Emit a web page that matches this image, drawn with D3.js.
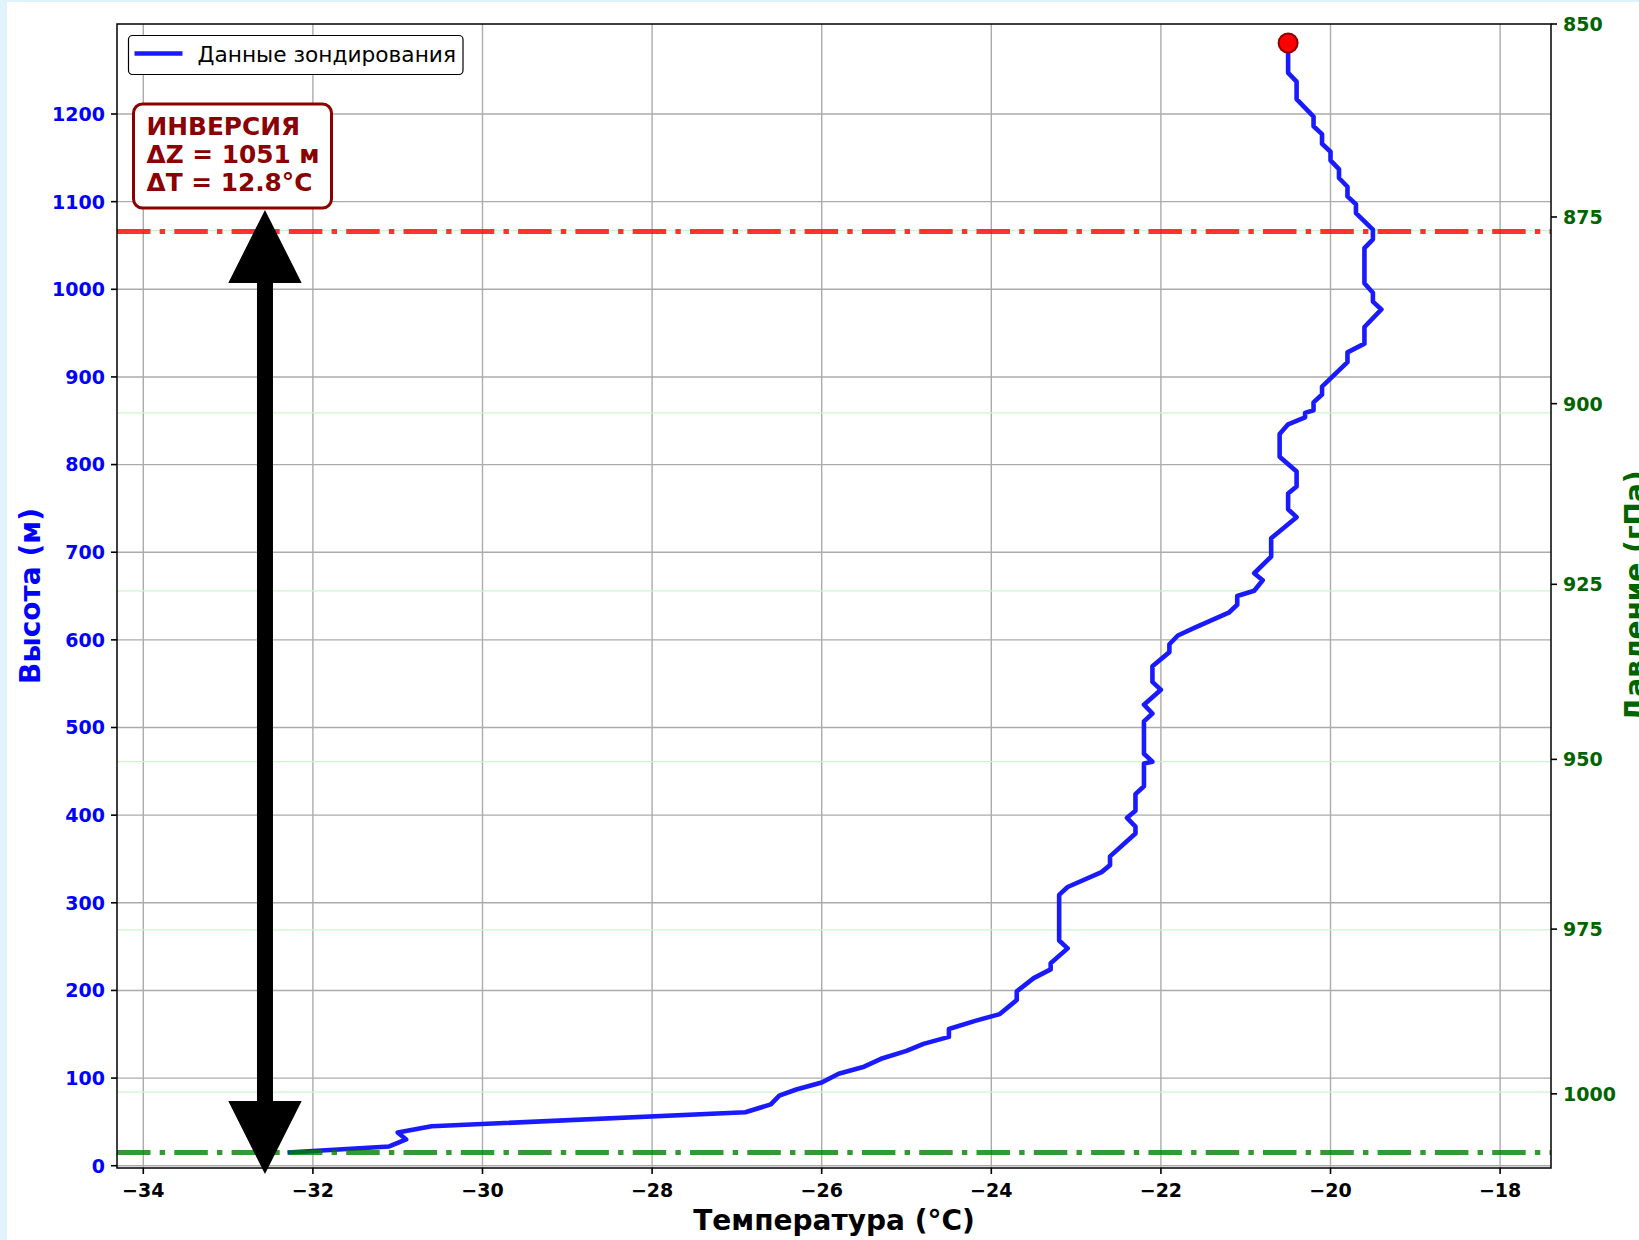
<!DOCTYPE html>
<html><head><meta charset="utf-8">
<script src="https://cdn.jsdelivr.net/npm/d3@7"></script>
<style>
html,body{margin:0;padding:0;background:#dff3fa;overflow:hidden;}
svg{position:absolute;left:0;top:0;}
</style></head><body>
<svg id="chart" width="1639" height="1240"></svg>
<script>
// ---------- data ----------
const temperature = [
  -32.3,-31.1,-30.9,-31.0,-30.6,-26.9,-26.6,-26.5,-26.3,-26.0,
  -25.8,-25.5,-25.3,-25.0,-24.8,-24.5,-24.5,-24.2,-23.9,-23.7,
  -23.7,-23.5,-23.3,-23.3,-23.1,-23.2,-23.2,-23.1,-22.7,-22.6,
  -22.6,-22.3,-22.3,-22.4,-22.3,-22.3,-22.2,-22.2,-22.1,-22.2,
  -22.2,-22.1,-22.2,-22.0,-22.1,-22.1,-21.9,-21.9,-21.8,-21.6,
  -21.2,-21.1,-21.1,-20.9,-20.8,-20.9,-20.7,-20.7,-20.4,-20.5,
  -20.5,-20.4,-20.4,-20.6,-20.6,-20.5,-20.3,-20.3,-20.2,-20.2,
  -20.1,-20.1,-19.8,-19.8,-19.6,-19.6,-19.4,-19.5,-19.5,-19.6,
  -19.6,-19.5,-19.5,-19.7,-19.7,-19.8,-19.8,-19.9,-19.9,-20.0,
  -20.0,-20.1,-20.1,-20.2,-20.2,-20.4,-20.4,-20.5,-20.5
];
const height = [
  15,22,30,38,45,61,70,80,87,95,
  105,113,122,131,139,147,156,165,173,189,
  199,214,224,231,248,257,309,318,335,343,
  353,379,387,397,405,424,433,459,461,470,
  507,516,526,543,552,570,586,595,605,614,
  631,640,650,656,668,676,695,716,740,749,
  767,775,792,809,835,846,854,859,862,871,
  880,889,917,928,938,957,977,986,996,1007,
  1047,1057,1068,1087,1097,1106,1117,1127,1137,1147,
  1157,1166,1177,1186,1197,1217,1237,1247,1281
];
const xTicks = [-34,-32,-30,-28,-26,-24,-22,-20,-18];
const yTicks = [0,100,200,300,400,500,600,700,800,900,1000,1100,1200];
const pressureTicks = [850,875,900,925,950,975,1000];
const pressureLevelHeights = [1067,859,656,461,269,84];
const xDomain = [-34.31,-17.40];
const yDomain = [-2.6,1302.7];
const pressureDomain = [1011.5,850];
const surfaceHeight = 15;
const inversionTopHeight = 1066;
const arrowTemperature = -32.565;
const annotationLines = ["ИНВЕРСИЯ","ΔZ = 1051 м","ΔT = 12.8°C"];
const legendLabel = "Данные зондирования";
const xLabel = "Температура (°C)";
const yLabel = "Высота (м)";
const y2Label = "Давление (гПа)";

// ---------- layout ----------
const L = 117, R = 1551, T = 24, B = 1168;
const FONT = "'DejaVu Sans', sans-serif";
const svg = d3.select("#chart");
svg.append("rect").attr("x",7).attr("y",2).attr("width",1639).attr("height",1240).attr("fill","#ffffff");

const x = d3.scaleLinear().domain(xDomain).range([L,R]);
const y = d3.scaleLinear().domain(yDomain).range([B,T]);
const yP = d3.scalePow().exponent(-0.17).domain(pressureDomain).range([B,T]);

// grid
const g = svg.append("g");
g.selectAll("line.vg").data(xTicks).join("line")
  .attr("x1",d=>x(d)).attr("x2",d=>x(d)).attr("y1",T).attr("y2",B)
  .attr("stroke","#ababab").attr("stroke-width",1.4);
g.selectAll("line.hg").data(yTicks).join("line")
  .attr("x1",L).attr("x2",R).attr("y1",d=>y(d)).attr("y2",d=>y(d))
  .attr("stroke","#ababab").attr("stroke-width",1.4);
g.selectAll("line.pg").data(pressureLevelHeights).join("line")
  .attr("x1",L).attr("x2",R).attr("y1",d=>y(d)).attr("y2",d=>y(d))
  .attr("stroke","#cdf3cd").attr("stroke-width",1.2);

// clip
svg.append("clipPath").attr("id","clip").append("rect")
  .attr("x",L).attr("y",T).attr("width",R-L).attr("height",B-T);

// profile line
const pts = temperature.map((t,i)=>[t,height[i]]);
svg.append("path").datum(pts)
  .attr("clip-path","url(#clip)")
  .attr("d",d3.line().x(d=>x(d[0])).y(d=>y(d[1])))
  .attr("fill","none").attr("stroke","#1a1aff").attr("stroke-width",4.6)
  .attr("stroke-linejoin","round").attr("stroke-linecap","butt");

// inversion boundary lines
const dash = "33.5,9.2,5.4,9.2";
svg.append("line").attr("x1",L).attr("x2",R).attr("y1",y(surfaceHeight)).attr("y2",y(surfaceHeight))
  .attr("stroke","#008000").attr("stroke-opacity",0.8).attr("stroke-width",5).attr("stroke-dasharray",dash);
svg.append("line").attr("x1",L).attr("x2",R).attr("y1",y(inversionTopHeight)).attr("y2",y(inversionTopHeight))
  .attr("stroke","#ff0000").attr("stroke-opacity",0.8).attr("stroke-width",5).attr("stroke-dasharray",dash);

// top marker
svg.append("circle").attr("cx",x(temperature[temperature.length-1])).attr("cy",y(height[height.length-1]))
  .attr("r",9.5).attr("fill","#ff0000").attr("stroke","#8b0000").attr("stroke-width",2);

// spines
const sp = svg.append("g").attr("stroke","#000").attr("stroke-width",1.5).attr("fill","none");
sp.append("rect").attr("x",L).attr("y",T).attr("width",R-L).attr("height",B-T);

// x axis
const xa = svg.append("g");
xa.selectAll("line").data(xTicks).join("line")
  .attr("x1",d=>x(d)).attr("x2",d=>x(d)).attr("y1",B).attr("y2",B+6)
  .attr("stroke","#000").attr("stroke-width",1.6);
xa.selectAll("text").data(xTicks).join("text")
  .attr("x",d=>x(d)).attr("y",B+28.5).attr("text-anchor","middle")
  .attr("font-family",FONT).attr("font-weight","bold").attr("font-size",19).attr("fill","#000")
  .text(d=>String(d).replace("-","\u2212"));

// y axis (left)
const ya = svg.append("g");
ya.selectAll("line").data(yTicks).join("line")
  .attr("x1",L-6).attr("x2",L).attr("y1",d=>y(d)).attr("y2",d=>y(d))
  .attr("stroke","#000").attr("stroke-width",1.6);
ya.selectAll("text").data(yTicks).join("text")
  .attr("x",L-12).attr("y",d=>y(d)+6.9).attr("text-anchor","end")
  .attr("font-family",FONT).attr("font-weight","bold").attr("font-size",19).attr("fill","#0000ff")
  .text(d=>d);

// pressure axis (right)
const pa = svg.append("g");
pa.selectAll("line").data(pressureTicks).join("line")
  .attr("x1",R).attr("x2",R+6).attr("y1",d=>yP(d)).attr("y2",d=>yP(d))
  .attr("stroke","#000").attr("stroke-width",1.6);
pa.selectAll("text").data(pressureTicks).join("text")
  .attr("x",R+12).attr("y",d=>yP(d)+6.9).attr("text-anchor","start")
  .attr("font-family",FONT).attr("font-weight","bold").attr("font-size",19).attr("fill","#006400")
  .text(d=>d);

// axis labels
svg.append("text").attr("x",(L+R)/2).attr("y",1230).attr("text-anchor","middle")
  .attr("font-family",FONT).attr("font-weight","bold").attr("font-size",28).attr("fill","#000").text(xLabel);
svg.append("text").attr("transform",`translate(39.5,${(T+B)/2}) rotate(-90)`).attr("text-anchor","middle")
  .attr("font-family",FONT).attr("font-weight","bold").attr("font-size",28).attr("fill","#0000ff").text(yLabel);
svg.append("text").attr("transform",`translate(1645,${(T+B)/2}) rotate(-90)`).attr("text-anchor","middle")
  .attr("font-family",FONT).attr("font-weight","bold").attr("font-size",28).attr("fill","#006400").text(y2Label);

// double arrow
const ax = x(arrowTemperature), tipExt = 21.5, hl = 73, hw = 36.7, sw = 8;
const yTop = y(inversionTopHeight) - tipExt, yBot = y(surfaceHeight) + tipExt;
const arrowPts = [
  [ax,yTop],[ax+hw,yTop+hl],[ax+sw,yTop+hl],[ax+sw,yBot-hl],[ax+hw,yBot-hl],
  [ax,yBot],[ax-hw,yBot-hl],[ax-sw,yBot-hl],[ax-sw,yTop+hl],[ax-hw,yTop+hl]
];
svg.append("path").attr("d","M"+arrowPts.map(p=>p.join(",")).join("L")+"Z").attr("fill","#000");

// annotation box
const ann = svg.append("g");
ann.append("rect").attr("x",133.5).attr("y",104).attr("width",198).attr("height",104).attr("rx",9)
  .attr("fill","#fff").attr("stroke","#8b0000").attr("stroke-width",3);
ann.selectAll("text").data(annotationLines).join("text")
  .attr("x",146.5).attr("y",(d,i)=>135+i*27.8)
  .attr("font-family",FONT).attr("font-weight","bold").attr("font-size",24.8).attr("fill","#8b0000")
  .text(d=>d);

// legend
const lg = svg.append("g");
lg.append("rect").attr("x",128.5).attr("y",35.5).attr("width",334.5).attr("height",39).attr("rx",4)
  .attr("fill","#fff").attr("stroke","#000").attr("stroke-width",1.2);
lg.append("line").attr("x1",134.5).attr("x2",182.5).attr("y1",53.5).attr("y2",53.5)
  .attr("stroke","#1a1aff").attr("stroke-width",4.6);
lg.append("text").attr("x",197.5).attr("y",61.8)
  .attr("font-family",FONT).attr("font-size",21.7).attr("fill","#000").text(legendLabel);
</script>
</body></html>
